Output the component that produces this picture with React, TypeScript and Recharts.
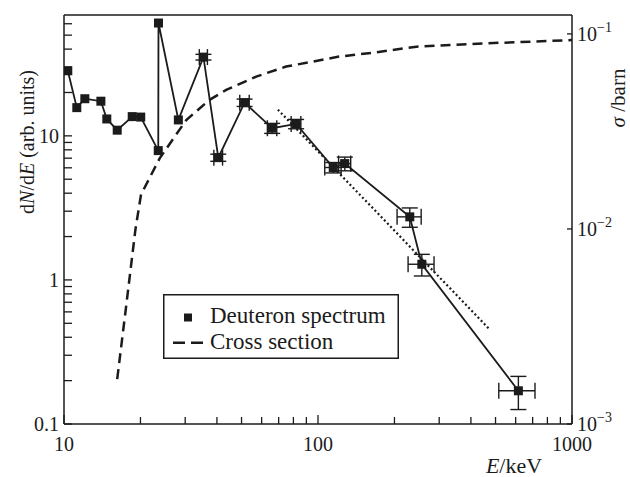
import {
  ScatterChart,
  Scatter,
  XAxis,
  YAxis,
  ErrorBar,
  ReferenceLine,
  Legend,
} from "recharts";

const INK = "#1b1b1b";
const FONT = '"Liberation Serif", "Times New Roman", serif';

// deuteron spectrum, E in keV and dN/dE in arb. units
const spectrumE = [
  10.35, 11.23, 12.08, 13.97, 14.74, 16.2, 18.56, 20.05, 23.5, 23.55, 28.2,
  35.4, 40.5, 51.4, 66.0, 82.0, 114.8, 127.5, 229.8, 256.3, 615,
];
const spectrumN = [
  28.3, 15.7, 18.1, 17.4, 13.1, 10.95, 13.6, 13.5, 7.9, 60.7, 12.9, 35.2,
  7.06, 17.0, 11.3, 12.1, 6.03, 6.42, 2.74, 1.285, 0.17,
];
// error bars start at the 12th point
const errFrom = 11;
const errE = [1.3, 1.6, 2.2, 2.8, 3.6, 8.5, 7, 25, 30, 100];
const errN = [1.6, 0.4, 1.0, 0.9, 0.9, 0.5, 0.7, 0.42, 0.22, 0.044];

// cross section in barn
const crossE = [
  16.2, 17.6, 19.1, 20.1, 23.8, 30.3, 37.4, 43.5, 57.1, 74.9, 95, 121, 164,
  244, 518, 1000,
];
const crossSigma = [
  0.0017, 0.0041, 0.0099, 0.015, 0.023, 0.0362, 0.0459, 0.0516, 0.0604, 0.068,
  0.072, 0.0765, 0.08, 0.086, 0.09, 0.093,
];

// dotted power law guide
const fitE = [69.5, 476];
const fitN = [15.2, 0.45];

const xMajor = [10, 100, 1000];
const xTicks = [
  10, 20, 30, 40, 50, 60, 70, 80, 90, 100, 200, 300, 400, 500, 600, 700, 800,
  900, 1000,
];
const leftMajor = [0.1, 1, 10];
const leftTicks = [
  0.1, 0.2, 0.3, 0.4, 0.5, 0.6, 0.7, 0.8, 0.9, 1, 2, 3, 4, 5, 6, 7, 8, 9, 10,
  20, 30, 40, 50, 60,
];
const rightTicks = [0.001, 0.01, 0.1];
const rightExp = ["\u22123", "\u22122", "\u22121"];

const spectrum = spectrumE.map((x, i) => ({ x, y: spectrumN[i] }));
const withErrors = errE.map((ex, i) => ({
  x: spectrumE[errFrom + i],
  y: spectrumN[errFrom + i],
  ex,
  ey: errN[i],
}));
const cross = crossE.map((x, i) => ({ x, y: crossSigma[i] }));
const fit = fitE.map((x, i) => ({ x, y: fitN[i] }));

function Square(props: any) {
  const { cx, cy } = props;
  return <rect x={cx - 4.5} y={cy - 4.5} width={9} height={9} fill={INK} />;
}

function NoMark() {
  return <g />;
}

function BottomTick(props: any) {
  const { x, y, payload } = props;
  const major = xMajor.includes(payload.value);
  return (
    <g>
      <line x1={x} x2={x} y1={y} y2={y - (major ? 9 : 7)} stroke={INK} strokeWidth={1.3} />
      {major && (
        <text x={x} y={y + 27} textAnchor="middle" fontFamily={FONT} fontSize={20} fill={INK}>
          {payload.value}
        </text>
      )}
    </g>
  );
}

function LeftTick(props: any) {
  const { x, y, payload } = props;
  const major = leftMajor.includes(payload.value);
  return (
    <g>
      <line x1={x} x2={x + 8} y1={y} y2={y} stroke={INK} strokeWidth={1.3} />
      {major && (
        <text x={x - 5} y={y + 7} textAnchor="end" fontFamily={FONT} fontSize={20} fill={INK}>
          {String(payload.value)}
        </text>
      )}
    </g>
  );
}

function RightTick(props: any) {
  const { x, y, index } = props;
  return (
    <g>
      <line x1={x} x2={x - 5} y1={y} y2={y} stroke={INK} strokeWidth={1.3} />
      <text x={x + 5} y={y + 7} fontFamily={FONT} fontSize={20} fill={INK}>
        10
        <tspan dy={-9} fontSize={14}>
          {rightExp[index] ?? ""}
        </tspan>
      </text>
    </g>
  );
}

function LegendBox() {
  return (
    <svg width={236} height={65} style={{ display: "block" }}>
      <rect x={0.75} y={0.75} width={234.5} height={63.5} fill="#fff" stroke={INK} strokeWidth={1.5} />
      <rect x={21} y={19.5} width={8} height={8} fill={INK} />
      <line x1={10} x2={40} y1={48.7} y2={48.7} stroke={INK} strokeWidth={2.5} strokeDasharray="12 6" />
      <text x={47} y={29} fontFamily={FONT} fontSize={23} fill={INK}>
        Deuteron spectrum
      </text>
      <text x={47} y={55} fontFamily={FONT} fontSize={23} fill={INK}>
        Cross section
      </text>
    </svg>
  );
}

export default function App() {
  return (
    <div style={{ position: "absolute", left: 0, top: 0, background: "#fff" }}>
      <ScatterChart width={630} height={477} margin={{ top: 15, right: 0, bottom: 0, left: 0 }}>
        <XAxis
          dataKey="x"
          type="number"
          scale="log"
          domain={[10, 1000]}
          allowDataOverflow
          ticks={xTicks}
          interval={0}
          height={53}
          tickSize={0}
          tickMargin={0}
          tickLine={false}
          tick={<BottomTick />}
          axisLine={{ stroke: INK, strokeWidth: 1.5 }}
          label={{
            content: () => (
              <text x={514} y={473} textAnchor="middle" fontFamily={FONT} fontSize={22} fill={INK}>
                <tspan fontStyle="italic">E</tspan>/keV
              </text>
            ),
          }}
        />
        <YAxis
          yAxisId="left"
          dataKey="y"
          type="number"
          scale="log"
          domain={[0.1, 69]}
          allowDataOverflow
          ticks={leftTicks}
          interval={0}
          width={64}
          tickSize={0}
          tickMargin={0}
          tickLine={false}
          tick={<LeftTick />}
          axisLine={{ stroke: INK, strokeWidth: 1.5 }}
          label={{
            content: () => (
              <text
                transform="translate(27,142) rotate(-90)"
                y={7}
                textAnchor="middle"
                fontFamily={FONT}
                fontSize={20}
                fill={INK}
              >
                d<tspan fontStyle="italic">N</tspan>/d<tspan fontStyle="italic">E</tspan> (arb. units)
              </text>
            ),
          }}
        />
        <YAxis
          yAxisId="right"
          orientation="right"
          dataKey="y"
          type="number"
          scale="log"
          domain={[0.001, 0.125]}
          allowDataOverflow
          ticks={rightTicks}
          interval={0}
          width={58}
          tickSize={0}
          tickMargin={0}
          tickLine={false}
          tick={<RightTick />}
          axisLine={{ stroke: INK, strokeWidth: 1.5 }}
          label={{
            content: () => (
              <text
                transform="translate(618,98) rotate(-90)"
                y={7}
                textAnchor="middle"
                fontFamily={FONT}
                fontSize={21}
                fill={INK}
              >
                <tspan fontStyle="italic">σ</tspan> /barn
              </text>
            ),
          }}
        />
        <ReferenceLine yAxisId="left" y={69} stroke={INK} strokeWidth={1.5} />
        <Scatter
          yAxisId="right"
          data={cross}
          shape={<NoMark />}
          line={{ stroke: INK, strokeWidth: 2.5, strokeDasharray: "10 6" }}
          isAnimationActive={false}
        />
        <Scatter
          yAxisId="left"
          data={fit}
          shape={<NoMark />}
          line={{ stroke: INK, strokeWidth: 2.2, strokeDasharray: "2 2.5" }}
          isAnimationActive={false}
        />
        <Scatter yAxisId="left" data={withErrors} shape={<NoMark />} isAnimationActive={false}>
          <ErrorBar dataKey="ex" direction="x" width={8} stroke={INK} strokeWidth={1.4} />
          <ErrorBar dataKey="ey" direction="y" width={8} stroke={INK} strokeWidth={1.4} />
        </Scatter>
        <Scatter
          yAxisId="left"
          data={spectrum}
          shape={<Square />}
          line={{ stroke: INK, strokeWidth: 1.8 }}
          isAnimationActive={false}
        />
        <Legend
          layout="vertical"
          align="center"
          verticalAlign="middle"
          wrapperStyle={{ left: 163, top: 294, width: 236, height: 65, lineHeight: 0 }}
          content={() => <LegendBox />}
        />
      </ScatterChart>
    </div>
  );
}
